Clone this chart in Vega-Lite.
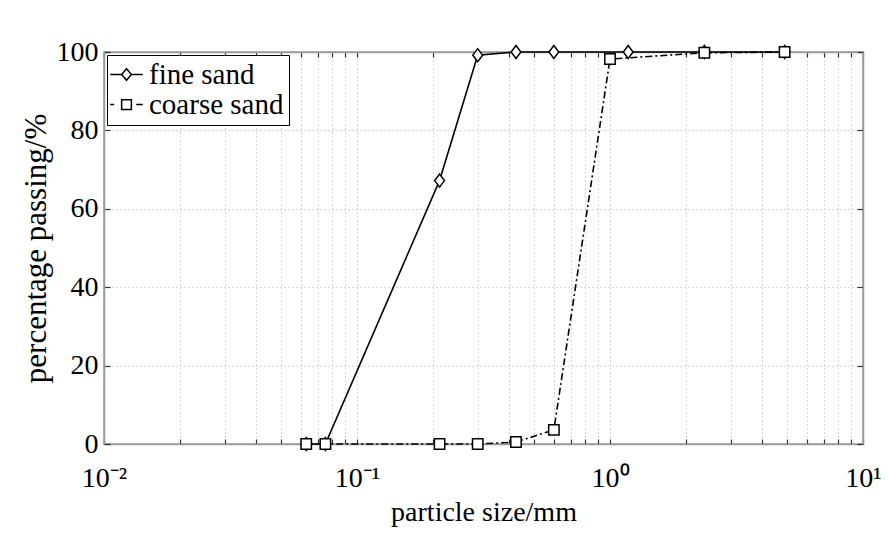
{
  "$schema": "https://vega.github.io/schema/vega-lite/v6.json",
  "width": 759,
  "height": 392,
  "autosize": "none",
  "padding": {"left": 104, "top": 52, "right": 26, "bottom": 114},
  "background": "white",
  "config": {
    "font": "Liberation Serif",
    "view": {"stroke": "#9a9a9a", "strokeWidth": 1.5},
    "axis": {
      "labelFont": "Liberation Serif",
      "titleFont": "Liberation Serif",
      "labelFontSize": 28,
      "titleFontSize": 28,
      "labelColor": "black",
      "titleColor": "black",
      "titleFontWeight": "normal",
      "domainColor": "#9a9a9a",
      "domainWidth": 1.5,
      "tickColor": "#333333",
      "tickWidth": 1.2,
      "gridColor": "#b0b0b0",
      "gridDash": [1, 3],
      "gridWidth": 1,
      "labelFlush": false,
      "labelOverlap": false,
      "labelBound": false
    }
  },
  "data": {
    "values": [
      {"size": 0.063, "pass": 0, "series": "fine sand"},
      {"size": 0.075, "pass": 0, "series": "fine sand"},
      {"size": 0.212, "pass": 67.2, "series": "fine sand"},
      {"size": 0.3, "pass": 99.2, "series": "fine sand"},
      {"size": 0.425, "pass": 100, "series": "fine sand"},
      {"size": 0.6, "pass": 100, "series": "fine sand"},
      {"size": 1.18, "pass": 100, "series": "fine sand"},
      {"size": 2.36, "pass": 100, "series": "fine sand"},
      {"size": 4.9, "pass": 100, "series": "fine sand"},
      {"size": 0.063, "pass": 0, "series": "coarse sand"},
      {"size": 0.075, "pass": 0, "series": "coarse sand"},
      {"size": 0.212, "pass": 0, "series": "coarse sand"},
      {"size": 0.3, "pass": 0, "series": "coarse sand"},
      {"size": 0.425, "pass": 0.5, "series": "coarse sand"},
      {"size": 0.6, "pass": 3.6, "series": "coarse sand"},
      {"size": 1.0, "pass": 98.2, "series": "coarse sand"},
      {"size": 2.36, "pass": 99.8, "series": "coarse sand"},
      {"size": 4.9, "pass": 100, "series": "coarse sand"}
    ]
  },
  "layer": [
    {
      "mark": {"type": "line", "color": "black", "strokeWidth": 1.6},
      "encoding": {
        "x": {
          "field": "size",
          "type": "quantitative",
          "scale": {"type": "log", "domain": [0.01, 10], "nice": false},
          "axis": {
            "orient": "bottom",
            "title": "particle size/mm",
            "values": [0.01, 0.02, 0.03, 0.04, 0.05, 0.06, 0.07, 0.08, 0.09, 0.1, 0.2, 0.3, 0.4, 0.5, 0.6, 0.7, 0.8, 0.9, 1, 2, 3, 4, 5, 6, 7, 8, 9, 10],
            "labelExpr": "datum.value == 0.01 ? '10⁻²' : datum.value == 0.1 ? '10⁻¹' : datum.value == 1 ? '10⁰' : datum.value == 10 ? '10¹' : ''",
            "tickSize": -5,
            "labelPadding": 25,
            "titlePadding": 6,
            "grid": true
          }
        },
        "y": {
          "field": "pass",
          "type": "quantitative",
          "scale": {"domain": [0, 100], "nice": false},
          "axis": {
            "orient": "left",
            "title": "percentage passing/%",
            "titleFontSize": 31,
            "values": [0, 20, 40, 60, 80, 100],
            "tickSize": -6,
            "labelPadding": 12,
            "titlePadding": 4,
            "grid": true
          }
        },
        "strokeDash": {
          "field": "series",
          "type": "nominal",
          "scale": {"domain": ["fine sand", "coarse sand"], "range": [[1, 0], [7, 3, 2, 3]]},
          "legend": null
        }
      }
    },
    {
      "mark": {"type": "point", "filled": true, "fill": "white", "stroke": "black", "strokeWidth": 1.5, "size": 169, "opacity": 1},
      "encoding": {
        "x": {
          "field": "size",
          "type": "quantitative",
          "axis": {
            "orient": "top",
            "title": null,
            "labels": false,
            "values": [0.01, 0.02, 0.03, 0.04, 0.05, 0.06, 0.07, 0.08, 0.09, 0.1, 0.2, 0.3, 0.4, 0.5, 0.6, 0.7, 0.8, 0.9, 1, 2, 3, 4, 5, 6, 7, 8, 9, 10],
            "tickSize": -5,
            "grid": false
          }
        },
        "y": {
          "field": "pass",
          "type": "quantitative",
          "axis": {
            "orient": "right",
            "title": null,
            "labels": false,
            "values": [0, 20, 40, 60, 80, 100],
            "tickSize": -6,
            "grid": false
          }
        },
        "shape": {
          "field": "series",
          "type": "nominal",
          "scale": {"domain": ["fine sand", "coarse sand"], "range": ["M0,-1L0.75,0L0,1L-0.75,0Z", "M-0.8,-0.8L0.8,-0.8L0.8,0.8L-0.8,0.8Z"]},
          "legend": null
        }
      }
    },
    {
      "transform": [{"filter": "datum.pass < -1"}],
      "mark": {"type": "point", "filled": false, "stroke": "black", "strokeWidth": 1.5, "size": 169, "opacity": 1},
      "encoding": {
        "shape": {
          "field": "series",
          "type": "nominal",
          "scale": {"domain": ["fine sand", "coarse sand"], "range": ["M-2.5,0L-0.75,0M0.75,0L2.5,0M0,-0.9L0.75,0L0,0.9L-0.75,0Z", "M-2.5,0L-1.9,0M1.5,0L2.5,0M-0.75,-0.75L0.75,-0.75L0.75,0.75L-0.75,0.75Z"]},
          "legend": {
            "title": null,
            "orient": "top-left",
            "offset": 3,
            "padding": 5,
            "strokeColor": "black",
            "fillColor": "white",
            "labelFont": "Liberation Serif",
            "labelFontSize": 29,
            "labelColor": "black",
            "symbolSize": 169,
            "labelOffset": 8,
            "rowPadding": -6,
            "symbolStrokeColor": "black",
            "symbolStrokeWidth": 1.5,
            "symbolOpacity": 1,
            "encode": {
              "legend": {
                "update": {"strokeWidth": {"value": 2}}
              }
            }
          }
        }
      }
    }
  ],
  "resolve": {
    "scale": {"shape": "independent"},
    "axis": {"x": "independent", "y": "independent"},
    "legend": {"shape": "independent", "strokeDash": "independent"}
  }
}
